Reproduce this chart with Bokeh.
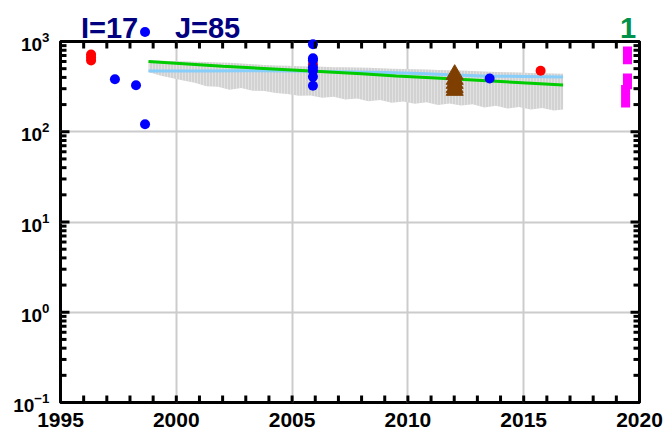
from bokeh.plotting import figure
from bokeh.models import FixedTicker, ColumnDataSource
from bokeh.core.properties import value
from bokeh.embed import file_html
from bokeh.resources import INLINE

# ---------------- data ----------------
red_x = [1996.32, 1996.32, 1996.32, 2005.90, 2015.73]
red_y = [718, 665, 616, 560, 474]

blue_x = [1997.35, 1998.26, 1998.65, 1998.65, 2005.90, 2005.90, 2005.90, 2005.90, 2005.90, 2005.90, 2005.90, 2013.53]
blue_y = [382, 328, 121, 1275, 933, 653, 621, 515, 474, 406, 323, 389]

brown_x = [2012.02, 2012.02, 2012.02, 2012.02, 2012.02]
brown_y = [431, 380, 343, 309, 287]

mag_x = [2019.48, 2019.48, 2019.40]
mag_top = [880, 442, 329]
mag_bottom = [561, 296, 186]
mag_width = 0.39

band_year = [1998.8, 1999.3, 1999.8, 2000.3, 2000.8, 2001.3, 2001.8, 2002.3, 2002.8, 2003.3,
             2003.8, 2004.3, 2004.8, 2005.3, 2005.8, 2006.3, 2006.8, 2007.3, 2007.8, 2008.3,
             2008.8, 2009.3, 2009.8, 2010.3, 2010.8, 2011.3, 2011.8, 2012.3, 2012.8, 2013.3,
             2013.8, 2014.3, 2014.8, 2015.3, 2015.8, 2016.3, 2016.7]
band_upper = [615, 612, 608, 603, 598, 592, 587, 580, 570, 560,
              550, 543, 538, 533, 528, 524, 520, 518, 515, 511,
              505, 500, 496, 492, 488, 484, 480, 476, 470, 465,
              460, 456, 452, 448, 445, 442, 440]
band_lower = [460, 420, 395, 370, 350, 320, 315, 292, 305, 285,
              282, 268, 262, 250, 252, 238, 244, 228, 234, 218,
              225, 210, 216, 204, 212, 198, 206, 195, 202, 186,
              194, 181, 188, 176, 183, 172, 176]

green_year = [1998.8, 2002.0, 2005.0, 2008.0, 2009.5, 2011.0, 2014.0, 2016.7]
green_val = [600, 533, 483, 438, 415, 397, 360, 329]

lblue_year = [1998.8, 2001.0, 2003.0, 2005.0, 2007.0, 2009.0, 2010.5, 2012.0, 2013.5, 2015.0, 2016.7]
lblue_val = [470, 470, 475, 472, 462, 452, 442, 425, 412, 410, 405]

x_lo, x_hi = 1995, 2020
y_lo, y_hi = 0.1, 1000
x_major = [1995, 2000, 2005, 2010, 2015, 2020]
x_minor = list(range(1995, 2021))
y_major = [0.1, 1, 10, 100, 1000]
y_minor = [k * 10.0 ** e for e in range(-1, 3) for k in range(2, 10)]

title_texts = ["I=17", "J=85", "1"]
title_x = [1995.885, 1999.94, 2019.16]
title_y = [1412, 1412, 1412]
title_colors = ["#000080", "#000080", "#00914a"]

FONT = "Liberation Sans"

# frame geometry (pixels) used only to give the inward ticks a fixed length
FRAME_W, FRAME_H = 579, 361
PX_PER_YEAR = FRAME_W / (x_hi - x_lo)
PX_PER_DECADE = FRAME_H / 4.0

# ---------------- figure ----------------
p = figure(width=667, height=441, x_range=(x_lo, x_hi), y_range=(y_lo, y_hi),
           y_axis_type="log", output_backend="svg", toolbar_location=None,
           min_border_left=60, min_border_right=28, min_border_top=41, min_border_bottom=39)
p.outline_line_color = "black"
p.outline_line_width = 3

p.xaxis.ticker = FixedTicker(ticks=x_major)
p.yaxis.ticker = FixedTicker(ticks=y_major)
for ax in p.axis:
    ax.axis_line_color = None
    ax.major_tick_line_color = None
    ax.minor_tick_line_color = None
    ax.major_label_text_font = FONT
    ax.major_label_text_font_style = "bold"
    ax.major_label_text_color = "black"
p.xaxis.major_label_text_font_size = "21px"
p.xaxis.major_label_standoff = 4
p.yaxis.major_label_text_font_size = "19px"
p.yaxis.major_label_standoff = 5

p.xgrid.ticker = FixedTicker(ticks=x_major)
p.ygrid.ticker = FixedTicker(ticks=y_major)
p.grid.grid_line_color = "#cccccc"
p.grid.grid_line_width = 2

# band
band = ColumnDataSource(dict(x=band_year, y1=band_lower, y2=band_upper))
p.varea(x="x", y1="y1", y2="y2", source=band, fill_color="#d2d2d2",
        hatch_pattern="vertical_line", hatch_color="white", hatch_alpha=0.35, hatch_scale=3,
        hatch_weight=1)

# lines
p.line(lblue_year, lblue_val, line_color="#87cefa", line_width=3)
p.line(green_year, green_val, line_color="#00cc00", line_width=3)

# magenta bars
p.vbar(x=mag_x, width=mag_width, top=mag_top, bottom=mag_bottom, fill_color="#ff00ff",
       line_color=None)

# brown triangles
p.scatter(brown_x, brown_y, marker="triangle", size=17, fill_color="#7f3f00", line_color="#7f3f00")

# points
p.scatter(red_x, red_y, size=10, fill_color="#ff0000", line_color=None)
p.scatter(blue_x, blue_y, size=10, fill_color="#0000ff", line_color=None, level="overlay")

# inward ticks on all four sides
def yfac(px):
    return 10.0 ** (px / PX_PER_DECADE)

def xoff(px):
    return px / PX_PER_YEAR

XT = 7
sx0, sx1, sy0, sy1 = [], [], [], []
for t in x_minor:
    sx0 += [t, t]
    sx1 += [t, t]
    sy0 += [y_lo, y_hi]
    sy1 += [y_lo * yfac(XT), y_hi / yfac(XT)]
for vals, ln in [(y_major, 9), (y_minor, 6)]:
    for v in vals:
        sx0 += [x_lo, x_hi]
        sx1 += [x_lo + xoff(ln), x_hi - xoff(ln)]
        sy0 += [v, v]
        sy1 += [v, v]
p.segment(x0=sx0, y0=sy0, x1=sx1, y1=sy1, line_color="black", line_width=3, level="overlay")

# titles
p.text(x=title_x, y=title_y, text=title_texts, text_color=title_colors,
       text_font=value(FONT), text_font_style="bold", text_font_size="29px",
       text_baseline="alphabetic", level="overlay")

open("out.html", "w").write(file_html(p, INLINE))
